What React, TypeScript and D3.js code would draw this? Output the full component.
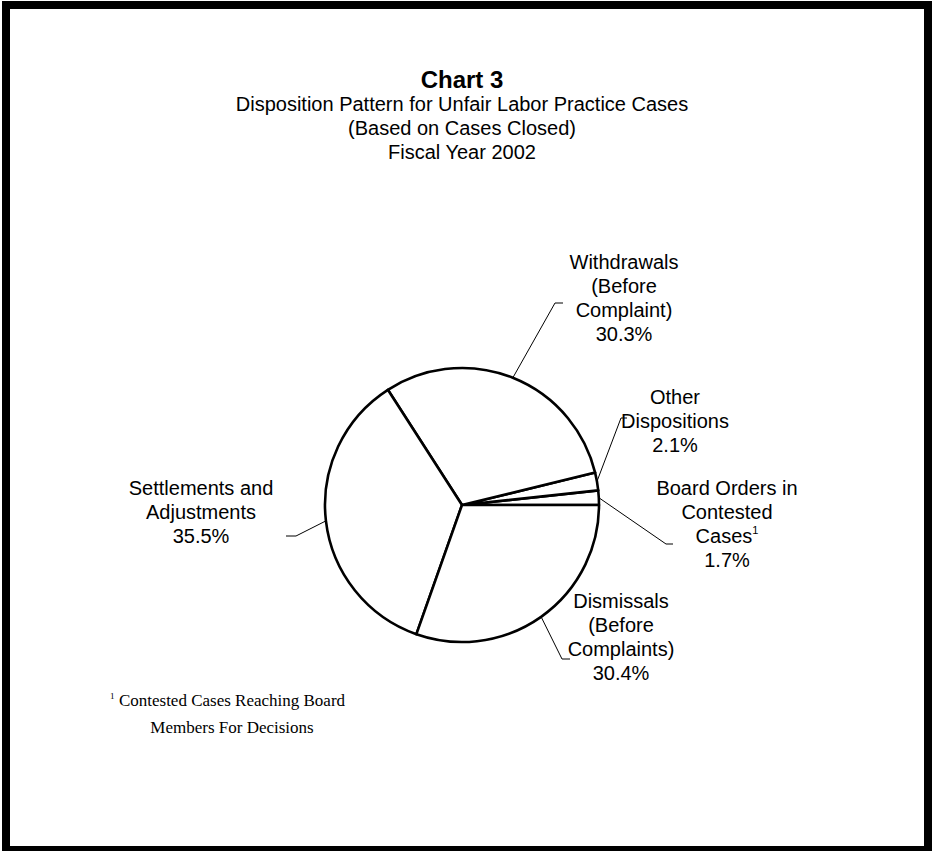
import React from "react";
import * as d3 from "d3";

const categories = ["Board Orders", "Other", "Withdrawals", "Settlements", "Dismissals"];
const values = [1.7, 2.1, 30.3, 35.5, 30.4];
const labelLines: string[][] = [
  ["Board Orders in", "Contested", "Cases", "1.7%"],
  ["Other", "Dispositions", "2.1%"],
  ["Withdrawals", "(Before", "Complaint)", "30.3%"],
  ["Settlements and", "Adjustments", "35.5%"],
  ["Dismissals", "(Before", "Complaints)", "30.4%"],
];
const titleText = "Chart 3";
const subtitleLines = [
  "Disposition Pattern for Unfair Labor Practice Cases",
  "(Based on Cases Closed)",
  "Fiscal Year 2002",
];
const footnoteLines = ["Contested Cases Reaching Board", "Members For Decisions"];

// layout (not data)
const W = 936;
const H = 851;
const cx = 462;
const cy = 505;
const R = 137;
// elbow point, end of horizontal tick, text center x, first baseline
const labelLayout = [
  { ex: 666, ey: 544, hx: 673, tx: 727, ty: 495 },
  { ex: 621, ey: 418, hx: 627, tx: 675, ty: 404 },
  { ex: 555, ey: 303, hx: 563, tx: 624, ty: 269 },
  { ex: 296, ey: 536, hx: 286, tx: 201, ty: 495 },
  { ex: 562, ey: 659, hx: 570, tx: 621, ty: 608 },
];
const LH = 24;

export default function App() {
  const pie = d3
    .pie<number>()
    .sort(null)
    .value((d) => d)
    .startAngle(Math.PI / 2)
    .endAngle(Math.PI / 2 - 2 * Math.PI);
  const arcs = pie(values);
  const arcGen = d3.arc<d3.PieArcDatum<number>>().innerRadius(0).outerRadius(R);

  const sans = "Arial, 'Liberation Sans', Helvetica, sans-serif";
  const serif = "'Times New Roman', 'Liberation Serif', serif";

  return (
    <svg
      width={W}
      height={H}
      style={{ position: "absolute", left: 0, top: 0, background: "#fff" }}
    >
      <rect x={6} y={5} width={922} height={845} fill="#fff" stroke="#000" strokeWidth={8} />
      <text x={462} y={88} textAnchor="middle" fontFamily={sans} fontWeight="bold" fontSize={24}>
        {titleText}
      </text>
      {subtitleLines.map((s, i) => (
        <text key={i} x={462} y={111 + i * LH} textAnchor="middle" fontFamily={sans} fontSize={20}>
          {s}
        </text>
      ))}
      <g transform={`translate(${cx},${cy})`}>
        {arcs.map((a, i) => (
          <path
            key={categories[i]}
            d={arcGen(a) || ""}
            fill="#fff"
            stroke="#000"
            strokeWidth={2.6}
            strokeLinejoin="round"
          />
        ))}
      </g>
      {arcs.map((a, i) => {
        const m = (a.startAngle + a.endAngle) / 2;
        const sx = cx + R * Math.sin(m);
        const sy = cy - R * Math.cos(m);
        const L = labelLayout[i];
        return (
          <polyline
            key={"l" + i}
            points={`${sx},${sy} ${L.ex},${L.ey} ${L.hx},${L.ey}`}
            fill="none"
            stroke="#000"
            strokeWidth={1}
          />
        );
      })}
      {labelLines.map((lines, i) => {
        const L = labelLayout[i];
        return (
          <g key={"t" + i}>
            {lines.map((s, j) => (
              <text
                key={j}
                x={L.tx}
                y={L.ty + j * LH}
                textAnchor="middle"
                fontFamily={sans}
                fontSize={20}
              >
                {s}
                {i === 0 && j === 2 ? (
                  <tspan fontSize={11} dy={-9}>
                    1
                  </tspan>
                ) : null}
              </text>
            ))}
          </g>
        );
      })}
      <text x={110} y={699} fontFamily={serif} fontSize={9}>
        1
      </text>
      {footnoteLines.map((s, i) => (
        <text key={i} x={232} y={706 + i * 27} textAnchor="middle" fontFamily={serif} fontSize={17}>
          {s}
        </text>
      ))}
    </svg>
  );
}
